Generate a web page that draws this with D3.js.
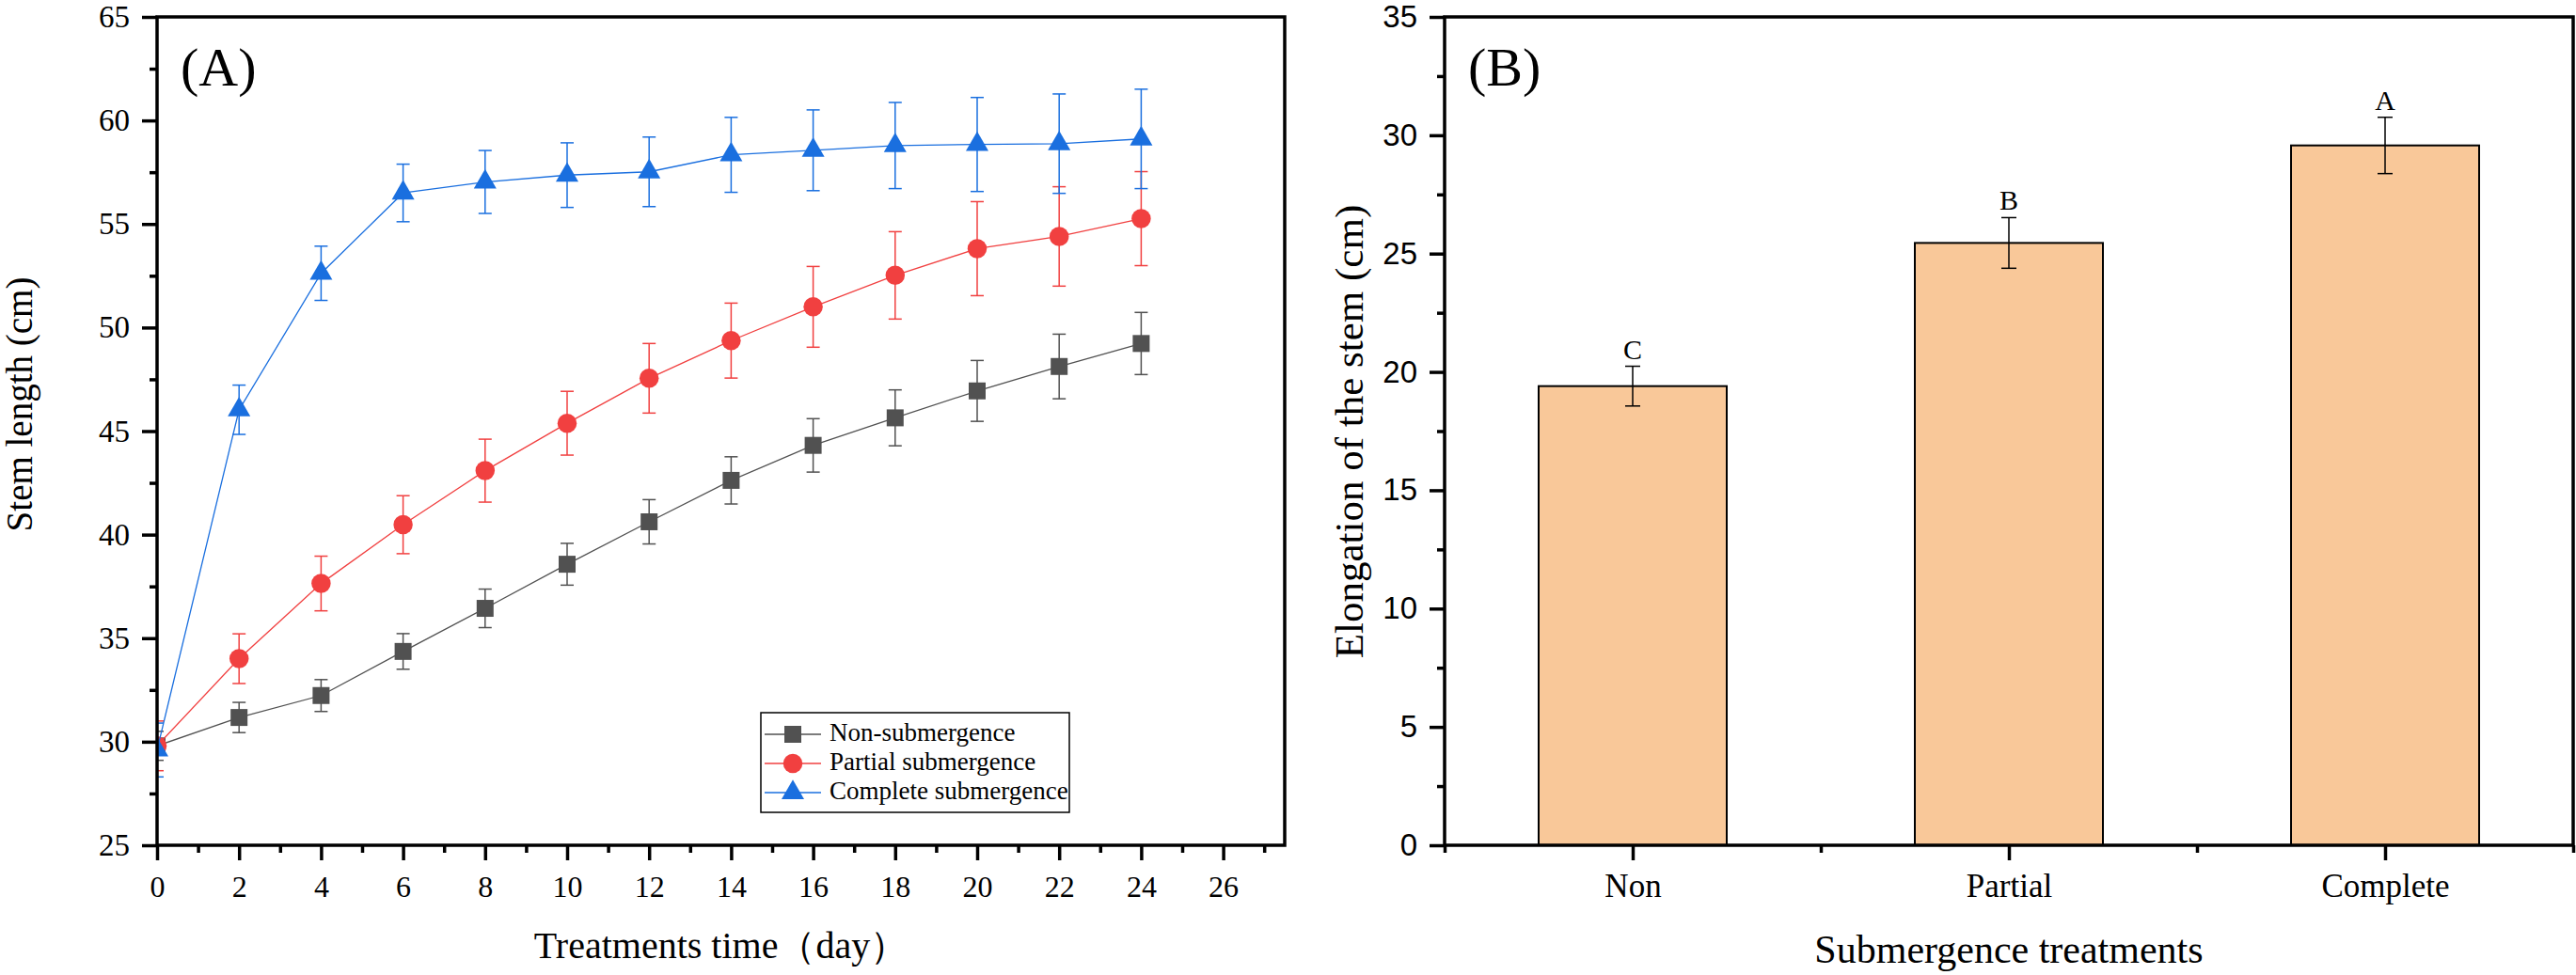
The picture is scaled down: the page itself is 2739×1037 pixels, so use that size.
<!DOCTYPE html>
<html>
<head>
<meta charset="utf-8">
<script src="https://cdn.jsdelivr.net/npm/d3@7"></script>
<style>
  body { margin: 0; background: #fff; }
  svg { display: block; }
  text { font-family: "Liberation Serif", "Times New Roman", serif; fill: #000; }
</style>
</head>
<body>
<svg id="chart" width="2739" height="1037"></svg>
<script>
// ---- data, panel A (stem length over time) ----
const days = [0, 2, 4, 6, 8, 10, 12, 14, 16, 18, 20, 22, 24];
const nonMean = [29.8, 31.17, 32.23, 34.36, 36.44, 38.57, 40.62, 42.62, 44.31, 45.64, 46.94, 48.12, 49.23];
const nonErr = [0.7, 0.73, 0.77, 0.86, 0.93, 1.01, 1.07, 1.14, 1.29, 1.35, 1.47, 1.56, 1.50];
const partialMean = [29.8, 34.01, 37.64, 40.48, 43.09, 45.38, 47.55, 49.37, 51.00, 52.52, 53.81, 54.40, 55.26];
const partialErr = [1.2, 1.20, 1.32, 1.40, 1.52, 1.54, 1.68, 1.81, 1.95, 2.11, 2.27, 2.40, 2.27];
const completeMean = [29.6, 46.03, 52.62, 56.50, 57.03, 57.36, 57.52, 58.34, 58.56, 58.79, 58.84, 58.88, 59.11];
const completeErr = [1.3, 1.19, 1.31, 1.39, 1.52, 1.56, 1.68, 1.81, 1.95, 2.08, 2.27, 2.40, 2.40];
const seriesNames = ["Non-submergence", "Partial submergence", "Complete submergence"];

const xTicksA = [0, 2, 4, 6, 8, 10, 12, 14, 16, 18, 20, 22, 24, 26];
const xMinorA = [1, 3, 5, 7, 9, 11, 13, 15, 17, 19, 21, 23, 25, 27];
const yTicksA = [25, 30, 35, 40, 45, 50, 55, 60, 65];
const yMinorA = [27.5, 32.5, 37.5, 42.5, 47.5, 52.5, 57.5, 62.5];

// ---- data, panel B (elongation) ----
const treatments = ["Non", "Partial", "Complete"];
const elongMean = [19.40, 25.45, 29.57];
const elongErr = [0.84, 1.07, 1.19];
const letters = ["C", "B", "A"];
const yTicksB = [0, 5, 10, 15, 20, 25, 30, 35];
const yMinorB = [2.5, 7.5, 12.5, 17.5, 22.5, 27.5, 32.5];
const xMinorB = [0.5, 1.5, 2.5, 3.5];

const svg = d3.select("#chart");
const axisW = 3.5;

function styleAxis(g, fontSize, family) {
  g.select(".domain").remove();
  g.selectAll(".tick line").attr("stroke", "#000").attr("stroke-width", axisW);
  g.selectAll(".tick text")
    .style("font-size", fontSize + "px")
    .style("font-family", family || null)
    .attr("fill", "#000");
}

// ================= panel A =================
const A = { left: 167, right: 1366, top: 18, bottom: 899 };
const xA = d3.scaleLinear().domain([0, 27.5]).range([A.left, A.right]);
const yA = d3.scaleLinear().domain([25, 65]).range([A.bottom, A.top]);

const gA = svg.append("g");
gA.append("clipPath").attr("id", "clipA")
  .append("rect")
  .attr("x", A.left).attr("y", A.top)
  .attr("width", A.right - A.left).attr("height", A.bottom - A.top);

gA.append("g").attr("transform", `translate(0,${A.bottom})`)
  .call(d3.axisBottom(xA).tickValues(xMinorA).tickSize(8).tickFormat(""))
  .call(g => styleAxis(g, 32));
gA.append("g").attr("transform", `translate(0,${A.bottom})`)
  .call(d3.axisBottom(xA).tickValues(xTicksA).tickSize(16).tickPadding(16))
  .call(g => styleAxis(g, 32));
gA.append("g").attr("transform", `translate(${A.left},0)`)
  .call(d3.axisLeft(yA).tickValues(yMinorA).tickSize(8).tickFormat(""))
  .call(g => styleAxis(g, 33));
gA.append("g").attr("transform", `translate(${A.left},0)`)
  .call(d3.axisLeft(yA).tickValues(yTicksA).tickSize(16).tickPadding(13))
  .call(g => styleAxis(g, 33));

const series = [
  { name: seriesNames[0], mean: nonMean, err: nonErr, color: "#515151", shape: d3.symbolSquare, size: 324 },
  { name: seriesNames[1], mean: partialMean, err: partialErr, color: "#F14040", shape: d3.symbolCircle, size: 330 },
  { name: seriesNames[2], mean: completeMean, err: completeErr, color: "#1A6FDF", shape: d3.symbolTriangle, size: 250 }
];

const marks = gA.append("g").attr("clip-path", "url(#clipA)");
const line = d3.line().x((d, i) => xA(days[i])).y(d => yA(d));

series.forEach(s => {
  const g = marks.append("g");
  g.append("path")
    .attr("d", line(s.mean))
    .attr("fill", "none")
    .attr("stroke", s.color)
    .attr("stroke-width", 1.3);

  const eb = g.selectAll(".eb").data(s.mean).enter().append("g");
  eb.append("line")
    .attr("x1", (d, i) => xA(days[i])).attr("x2", (d, i) => xA(days[i]))
    .attr("y1", (d, i) => yA(d - s.err[i])).attr("y2", (d, i) => yA(d + s.err[i]))
    .attr("stroke", s.color).attr("stroke-width", 1.5);
  [-1, 1].forEach(sign => {
    eb.append("line")
      .attr("x1", (d, i) => xA(days[i]) - 7).attr("x2", (d, i) => xA(days[i]) + 7)
      .attr("y1", (d, i) => yA(d + sign * s.err[i])).attr("y2", (d, i) => yA(d + sign * s.err[i]))
      .attr("stroke", s.color).attr("stroke-width", 1.5);
  });

  g.selectAll(".pt").data(s.mean).enter().append("path")
    .attr("transform", (d, i) => `translate(${xA(days[i])},${yA(d)})`)
    .attr("d", d3.symbol(s.shape, s.size))
    .attr("fill", s.color);
});

gA.append("rect")
  .attr("x", A.left).attr("y", A.top)
  .attr("width", A.right - A.left).attr("height", A.bottom - A.top)
  .attr("fill", "none").attr("stroke", "#000").attr("stroke-width", axisW);

gA.append("text").attr("x", 192).attr("y", 91)
  .style("font-size", "58px").text("(A)");

gA.append("text")
  .attr("transform", `translate(34,430) rotate(-90)`)
  .attr("text-anchor", "middle")
  .style("font-size", "39px")
  .text("Stem length (cm)");

gA.append("text")
  .attr("x", (A.left + A.right) / 2).attr("y", 1019)
  .attr("text-anchor", "middle")
  .style("font-size", "40px")
  .text("Treatments time（day）");

// legend
const leg = gA.append("g");
leg.append("rect")
  .attr("x", 809).attr("y", 758).attr("width", 328).attr("height", 106)
  .attr("fill", "#fff").attr("stroke", "#000").attr("stroke-width", 1.5);
series.forEach((s, i) => {
  const cy = 781 + i * 31;
  leg.append("line").attr("x1", 813).attr("x2", 873).attr("y1", cy).attr("y2", cy)
    .attr("stroke", s.color).attr("stroke-width", 1.3);
  leg.append("path").attr("transform", `translate(843,${cy})`)
    .attr("d", d3.symbol(s.shape, s.size)).attr("fill", s.color);
  leg.append("text").attr("x", 882).attr("y", cy + 7)
    .style("font-size", "27px").text(s.name);
});

// ================= panel B =================
const B = { left: 1536, right: 2736, top: 18, bottom: 899 };
const xB = d3.scaleLinear().domain([0.5, 3.5]).range([B.left, B.right]);
const yB = d3.scaleLinear().domain([0, 35]).range([B.bottom, B.top]);
const barW = xB(1.25) - xB(0.75);

const gB = svg.append("g");

gB.append("g").attr("transform", `translate(0,${B.bottom})`)
  .call(d3.axisBottom(xB).tickValues(xMinorB).tickSize(8).tickFormat(""))
  .call(g => styleAxis(g, 35));
gB.append("g").attr("transform", `translate(0,${B.bottom})`)
  .call(d3.axisBottom(xB).tickValues([1, 2, 3]).tickSize(16).tickPadding(14)
    .tickFormat(d => treatments[d - 1]))
  .call(g => styleAxis(g, 35));
gB.append("g").attr("transform", `translate(${B.left},0)`)
  .call(d3.axisLeft(yB).tickValues(yMinorB).tickSize(8).tickFormat(""))
  .call(g => styleAxis(g, 33, '"Liberation Sans", Arial, sans-serif'));
gB.append("g").attr("transform", `translate(${B.left},0)`)
  .call(d3.axisLeft(yB).tickValues(yTicksB).tickSize(16).tickPadding(13))
  .call(g => styleAxis(g, 33, '"Liberation Sans", Arial, sans-serif'));

const bars = gB.selectAll(".bar").data(elongMean).enter().append("g");
bars.append("rect")
  .attr("x", (d, i) => xB(i + 1) - barW / 2)
  .attr("y", d => yB(d))
  .attr("width", barW)
  .attr("height", d => yB(0) - yB(d))
  .attr("fill", "#F9C899")
  .attr("stroke", "#000").attr("stroke-width", 2);
bars.append("line")
  .attr("x1", (d, i) => xB(i + 1)).attr("x2", (d, i) => xB(i + 1))
  .attr("y1", (d, i) => yB(d - elongErr[i])).attr("y2", (d, i) => yB(d + elongErr[i]))
  .attr("stroke", "#000").attr("stroke-width", 1.5);
[-1, 1].forEach(sign => {
  bars.append("line")
    .attr("x1", (d, i) => xB(i + 1) - 8).attr("x2", (d, i) => xB(i + 1) + 8)
    .attr("y1", (d, i) => yB(d + sign * elongErr[i])).attr("y2", (d, i) => yB(d + sign * elongErr[i]))
    .attr("stroke", "#000").attr("stroke-width", 1.5);
});
bars.append("text")
  .attr("x", (d, i) => xB(i + 1))
  .attr("y", (d, i) => yB(d + elongErr[i]) - 8)
  .attr("text-anchor", "middle")
  .style("font-size", "30px")
  .text((d, i) => letters[i]);

gB.append("rect")
  .attr("x", B.left).attr("y", B.top)
  .attr("width", B.right - B.left).attr("height", B.bottom - B.top)
  .attr("fill", "none").attr("stroke", "#000").attr("stroke-width", axisW);

gB.append("text").attr("x", 1561).attr("y", 91)
  .style("font-size", "58px").text("(B)");

gB.append("text")
  .attr("transform", `translate(1449,459) rotate(-90)`)
  .attr("text-anchor", "middle")
  .style("font-size", "43px")
  .text("Elongation of the stem (cm)");

gB.append("text")
  .attr("x", (B.left + B.right) / 2).attr("y", 1024)
  .attr("text-anchor", "middle")
  .style("font-size", "42px")
  .text("Submergence treatments");
</script>
</body>
</html>
